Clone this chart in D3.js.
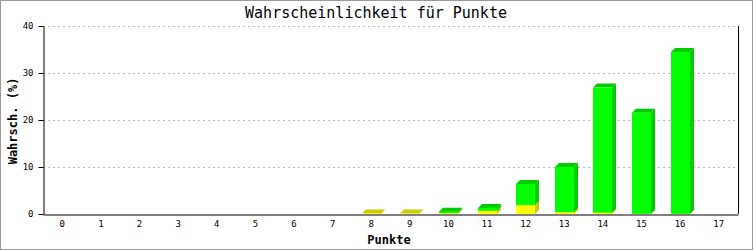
<!DOCTYPE html>
<html>
<head>
<meta charset="utf-8">
<script src="https://cdn.jsdelivr.net/npm/d3@7"></script>
<style>
  body { margin: 0; background: #fff; }
  svg { display: block; }
  text { font-family: "DejaVu Sans Mono", "Liberation Mono", monospace; }
</style>
</head>
<body>
<svg id="chart" width="753" height="250"></svg>
<script>
// Punkte 0..17
var punkte = d3.range(0, 18);
// unterer Anteil (gelb)
var gelbWerte = [0, 0, 0, 0, 0, 0, 0, 0, 0.1, 0.1, 0.2, 0.7, 1.9, 0.4, 0.3, 0.05, 0.05, 0];
// oberer Anteil (grün)
var gruenWerte = [0, 0, 0, 0, 0, 0, 0, 0, 0, 0, 0.3, 0.6, 4.5, 9.6, 26.6, 21.5, 34.4, 0];
var yTicks = [0, 10, 20, 30, 40];

var width = 753, height = 250;
var margin = {left: 43, right: 15, top: 26, bottom: 36};
var depth = 4;

var serien = [
    {key: "gelb", front: "#ffff00", dunkel: "#cccc00"},
    {key: "gruen", front: "#00ff00", dunkel: "#00cc00"}
];

var svg = d3.select("#chart");

// Rahmen
svg.append("rect")
    .attr("x", 0.5).attr("y", 0.5)
    .attr("width", width - 1).attr("height", height - 1)
    .attr("fill", "#fff")
    .attr("stroke", "#999")
    .attr("stroke-width", 1);

var xScale = d3.scaleBand()
    .domain(punkte)
    .range([margin.left, width - margin.right]);

var yScale = d3.scaleLinear()
    .domain([0, 40])
    .range([height - margin.bottom, margin.top]);

// Gitterlinien
svg.append("g")
    .selectAll("line")
    .data(yTicks.filter(d => d > 0))
    .join("line")
    .attr("x1", margin.left)
    .attr("x2", width - margin.right)
    .attr("y1", d => yScale(d) + 0.5)
    .attr("y2", d => yScale(d) + 0.5)
    .attr("stroke", "#bbb")
    .attr("stroke-dasharray", "2,3");

// gestapelte Daten
var tabelle = punkte.map((p, i) => ({punkt: p, gelb: gelbWerte[i], gruen: gruenWerte[i]}));
var stapel = d3.stack().keys(["gelb", "gruen"])(tabelle);

var bw = Math.round(xScale.bandwidth() * 0.5);

stapel.forEach((s, si) => {
    var farbe = serien[si];
    var g = svg.append("g").attr("class", "serie-" + s.key);
    s.forEach(d => {
        var wert = d[1] - d[0];
        if (wert <= 0) return;
        var x0 = Math.round(xScale(d.data.punkt) + (xScale.bandwidth() - bw) / 2);
        var x1 = x0 + bw;
        var yo = yScale(d[1]);
        var yu = yScale(d[0]);
        // Seite
        g.append("polygon")
            .attr("points", [[x1, yo], [x1 + depth, yo - depth], [x1 + depth, yu - depth], [x1, yu]].join(" "))
            .attr("fill", farbe.dunkel);
        // Deckel
        g.append("polygon")
            .attr("points", [[x0, yo], [x0 + depth, yo - depth], [x1 + depth, yo - depth], [x1, yo]].join(" "))
            .attr("fill", farbe.dunkel);
        // Front
        g.append("rect")
            .attr("x", x0)
            .attr("y", yo)
            .attr("width", bw)
            .attr("height", yu - yo)
            .attr("fill", farbe.front);
    });
});

// Achsen
var yAxis = d3.axisLeft(yScale).tickValues(yTicks).tickSize(5).tickPadding(5).tickSizeOuter(0);
var gy = svg.append("g")
    .attr("transform", "translate(" + (margin.left + 0.5) + ",0)")
    .call(yAxis);
gy.select(".domain").attr("stroke", "#000");
gy.selectAll("text").style("font-size", "9px").attr("fill", "#000");

var xAxis = d3.axisBottom(xScale).tickSize(0).tickPadding(6).tickSizeOuter(0);
var gx = svg.append("g")
    .attr("transform", "translate(0," + (yScale(0) + 0.5) + ")")
    .call(xAxis);
gx.select(".domain").attr("stroke", "#000");
gx.selectAll("text").style("font-size", "9px").attr("fill", "#000");

// rechte Begrenzung
svg.append("line")
    .attr("x1", width - margin.right + 0.5)
    .attr("x2", width - margin.right + 0.5)
    .attr("y1", margin.top)
    .attr("y2", yScale(0))
    .attr("stroke", "#000");

// Titel
svg.append("text")
    .attr("x", 376)
    .attr("y", 18)
    .attr("text-anchor", "middle")
    .style("font-size", "15px")
    .text("Wahrscheinlichkeit für Punkte");

// Achsentitel
svg.append("text")
    .attr("x", 389)
    .attr("y", 244)
    .attr("text-anchor", "middle")
    .style("font-size", "12px")
    .style("font-weight", "bold")
    .text("Punkte");

svg.append("text")
    .attr("transform", "translate(17,121) rotate(-90)")
    .attr("text-anchor", "middle")
    .style("font-size", "12px")
    .style("font-weight", "bold")
    .text("Wahrsch. (%)");
</script>
</body>
</html>
